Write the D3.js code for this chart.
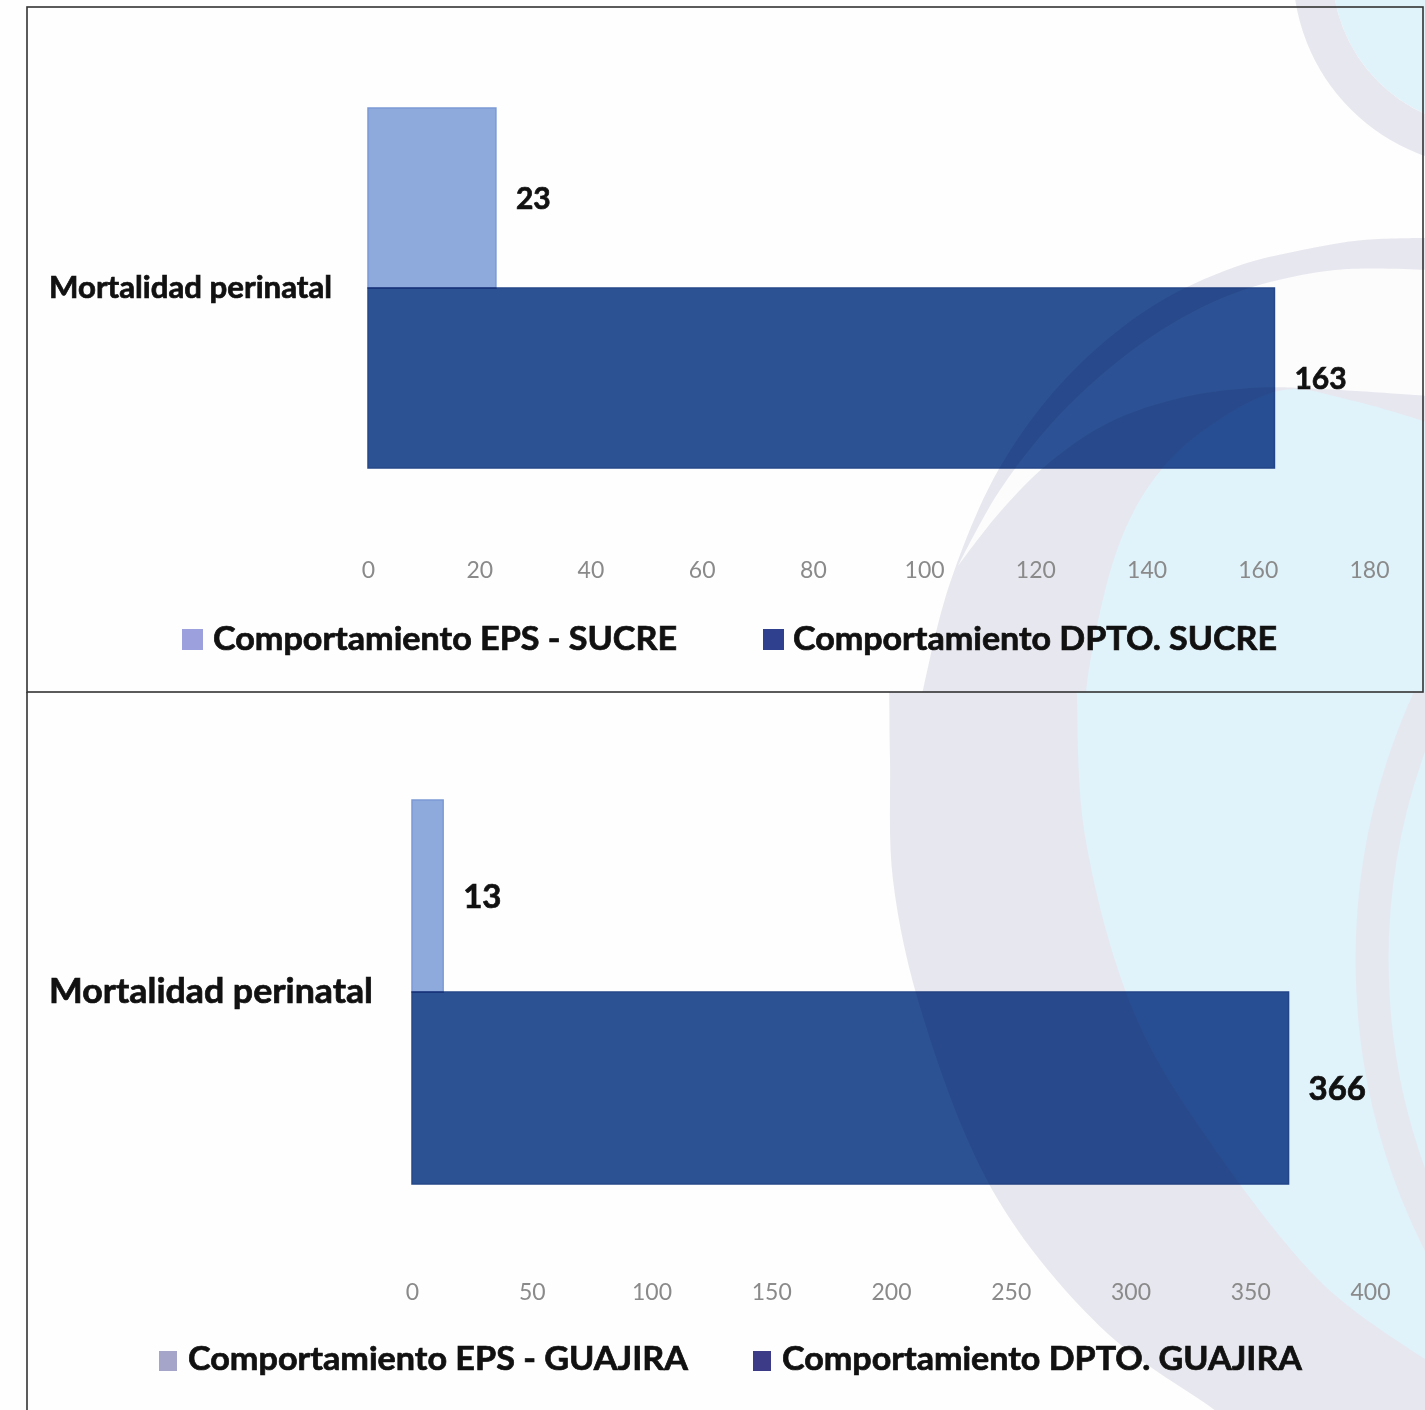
<!DOCTYPE html>
<html>
<head>
<meta charset="utf-8">
<script src="https://cdn.jsdelivr.net/npm/d3@7"></script>
<style>
  html, body { margin: 0; padding: 0; background: #ffffff; }
  svg { display: block; }
</style>
</head>
<body>
<div id="chart"></div>
<script>
// ---------------- DATA ----------------
const categories = ["Mortalidad perinatal"];

const sucreSeries = ["Comportamiento EPS - SUCRE", "Comportamiento DPTO. SUCRE"];
const sucreValues = [23, 163];
const sucreTicks = [0, 20, 40, 60, 80, 100, 120, 140, 160, 180];

const guajiraSeries = ["Comportamiento EPS - GUAJIRA", "Comportamiento DPTO. GUAJIRA"];
const guajiraValues = [13, 366];
const guajiraTicks = [0, 50, 100, 150, 200, 250, 300, 350, 400];

// ---------------- LAYOUT / STYLE ----------------
const W = 1425, H = 1410;
const FONT = "Lato, 'Open Sans', 'DejaVu Sans', sans-serif";
const barColors = ["#8fabde", "#2c5295"];
const barStroke = ["#7d9ad6", "#26488a"];
const BOLD_STROKE = 0.7;

const panels = [
  {
    series: sucreSeries, values: sucreValues, ticks: sucreTicks,
    xDomain: [0, 180], xRange: [368, 1369], yRange: [108, 468],
    catX: 49, catSize: 30, catLen: 283,
    valSize: 30, tickBaseline: 578, tickSize: 23,
    legend: {
      baseline: 650, size: 32,
      swatch: [{x: 182, y: 629, w: 21, h: 21, c: "#9ca0dc"}, {x: 763, y: 629, w: 21, h: 21, c: "#2f408e"}],
      text: [{x: 213, len: 464}, {x: 793, len: 484}]
    }
  },
  {
    series: guajiraSeries, values: guajiraValues, ticks: guajiraTicks,
    xDomain: [0, 400], xRange: [412, 1370], yRange: [800, 1184],
    catX: 49, catSize: 35, catLen: 324,
    valSize: 33, tickBaseline: 1300, tickSize: 23,
    legend: {
      baseline: 1370, size: 33,
      swatch: [{x: 159, y: 1351, w: 18, h: 20, c: "#a5a5ca"}, {x: 753, y: 1351, w: 18, h: 20, c: "#3c3b88"}],
      text: [{x: 188, len: 500}, {x: 782, len: 520}]
    }
  }
];

const svg = d3.select("#chart").append("svg")
  .attr("width", W).attr("height", H)
  .attr("viewBox", `0 0 ${W} ${H}`);

svg.append("rect").attr("width", W).attr("height", H).attr("fill", "#fefefe");

// ---------------- BACKGROUND DECORATION ----------------
const defs = svg.append("defs");
defs.append("clipPath").attr("id", "clipTop").append("rect").attr("x", 0).attr("y", 0).attr("width", W).attr("height", 692);
defs.append("clipPath").attr("id", "clipBot").append("rect").attr("x", 0).attr("y", 692).attr("width", W).attr("height", H - 692);

const curve = d3.line().curve(d3.curveCatmullRom.alpha(0.5));
const GRAY = "#e7e7ef", LBLUE = "#e0f2fa";

// upper panel decoration
const decoTop = svg.append("g").attr("clip-path", "url(#clipTop)");
const outerTop = [[1430,238],[1363,240],[1302,250],[1235,267],[1151,307],[1067,377],[1000,467],[950,583],[923,690],[915,730]];
decoTop.append("path").attr("d", curve(outerTop) + "L1430,730Z").attr("fill", GRAY);

const crescentA = [[1430,270],[1335,270],[1235,293],[1151,337],[1067,407],[1000,490],[958,566]];
const crescentB = [[958,566],[1000,512],[1050,462],[1110,422],[1180,398],[1250,388],[1300,388],[1430,396]];
decoTop.append("path")
  .attr("d", curve(crescentA) + curve(crescentB).replace(/^M[^C]*/, "L958,566") + "Z")
  .attr("fill", "#fcfcfd");

const blueTop = [[1430,423],[1350,400],[1283,390],[1200,433],[1151,483],[1117,550],[1087,683],[1085,730]];
decoTop.append("path").attr("d", curve(blueTop) + "L1430,730Z").attr("fill", LBLUE);

decoTop.append("circle").attr("cx", 1490).attr("cy", -30).attr("r", 158).attr("fill", LBLUE);
decoTop.append("circle").attr("cx", 1490).attr("cy", -30).attr("r", 177.5)
  .attr("fill", "none").attr("stroke", GRAY).attr("stroke-width", 39);

// lower panel decoration
const decoBot = svg.append("g").attr("clip-path", "url(#clipBot)");
const outerBot = [[889,670],[890,760],[893,880],[923,1017],[997,1198],[1107,1333],[1217,1412],[1230,1425]];
decoBot.append("path").attr("d", curve(outerBot) + "L1430,1425L1430,670Z").attr("fill", GRAY);

const blueBot = [[1077,670],[1077,700],[1085,836],[1136,1017],[1217,1152],[1327,1288],[1430,1362]];
decoBot.append("path").attr("d", curve(blueBot) + "L1430,670Z").attr("fill", LBLUE);

decoBot.append("circle").attr("cx", 2000).attr("cy", 960).attr("r", 628)
  .attr("fill", "none").attr("stroke", "#e6e8f0").attr("stroke-width", 33);

// ---------------- PANELS ----------------
panels.forEach(p => {
  const g = svg.append("g");
  const x = d3.scaleLinear().domain(p.xDomain).range(p.xRange);
  const y0 = d3.scaleBand().domain(categories).range(p.yRange).padding(0);
  const y1 = d3.scaleBand().domain(p.series).range([0, y0.bandwidth()]).padding(0);

  const rows = categories.map(c => ({
    cat: c,
    bars: p.series.map((s, i) => ({ series: s, value: p.values[i], i }))
  }));

  const catG = g.selectAll("g.cat").data(rows).join("g")
    .attr("class", "cat")
    .attr("transform", d => `translate(0,${y0(d.cat)})`);

  catG.selectAll("rect.bar").data(d => d.bars).join("rect")
    .attr("class", "bar")
    .attr("x", x(0))
    .attr("y", d => y1(d.series))
    .attr("width", d => x(d.value) - x(0))
    .attr("height", y1.bandwidth())
    .attr("fill", d => barColors[d.i])
    .attr("stroke", d => barStroke[d.i])
    .attr("stroke-width", 1.5)
    .style("mix-blend-mode", "multiply");

  // value labels
  catG.selectAll("text.val").data(d => d.bars).join("text")
    .attr("class", "val")
    .attr("x", d => x(d.value) + 20)
    .attr("y", d => y1(d.series) + y1.bandwidth() / 2)
    .attr("dy", "0.36em")
    .attr("font-family", FONT)
    .attr("font-weight", 700)
    .attr("font-size", p.valSize)
    .attr("fill", "#111")
    .attr("stroke", "#111").attr("stroke-width", BOLD_STROKE)
    .text(d => d.value);

  // category label
  g.selectAll("text.catlabel").data(categories).join("text")
    .attr("class", "catlabel")
    .attr("x", p.catX)
    .attr("y", d => y0(d) + y0.bandwidth() / 2)
    .attr("dy", "0.32em")
    .attr("font-family", FONT)
    .attr("font-weight", 700)
    .attr("font-size", p.catSize)
    .attr("textLength", p.catLen)
    .attr("lengthAdjust", "spacingAndGlyphs")
    .attr("fill", "#111")
    .attr("stroke", "#111").attr("stroke-width", BOLD_STROKE)
    .text(d => d);

  // x axis (labels only)
  const axis = d3.axisBottom(x).tickValues(p.ticks).tickSize(0).tickPadding(0);
  const ag = g.append("g").attr("transform", `translate(0,${p.tickBaseline})`).call(axis);
  ag.select(".domain").remove();
  ag.selectAll("text")
    .attr("y", 0).attr("dy", 0)
    .attr("font-family", FONT)
    .attr("font-weight", 400)
    .attr("font-size", p.tickSize)
    .attr("fill", "#8a8a8a");

  // legend
  const lg = g.append("g");
  lg.selectAll("rect").data(p.series).join("rect")
    .attr("x", (d, i) => p.legend.swatch[i].x)
    .attr("y", (d, i) => p.legend.swatch[i].y)
    .attr("width", (d, i) => p.legend.swatch[i].w)
    .attr("height", (d, i) => p.legend.swatch[i].h)
    .attr("fill", (d, i) => p.legend.swatch[i].c);
  lg.selectAll("text").data(p.series).join("text")
    .attr("x", (d, i) => p.legend.text[i].x)
    .attr("y", p.legend.baseline)
    .attr("font-family", FONT)
    .attr("font-weight", 700)
    .attr("font-size", p.legend.size)
    .attr("textLength", (d, i) => p.legend.text[i].len)
    .attr("lengthAdjust", "spacingAndGlyphs")
    .attr("fill", "#111")
    .attr("stroke", "#111").attr("stroke-width", BOLD_STROKE)
    .text(d => d);
});

// ---------------- FRAMES ----------------
const frame = svg.append("g").attr("fill", "none").attr("stroke", "#333").attr("stroke-width", 1.6);
frame.append("rect").attr("x", 27).attr("y", 7).attr("width", 1396).attr("height", 685);
frame.append("line").attr("x1", 27).attr("y1", 692).attr("x2", 27).attr("y2", 1410);
</script>
</body>
</html>
